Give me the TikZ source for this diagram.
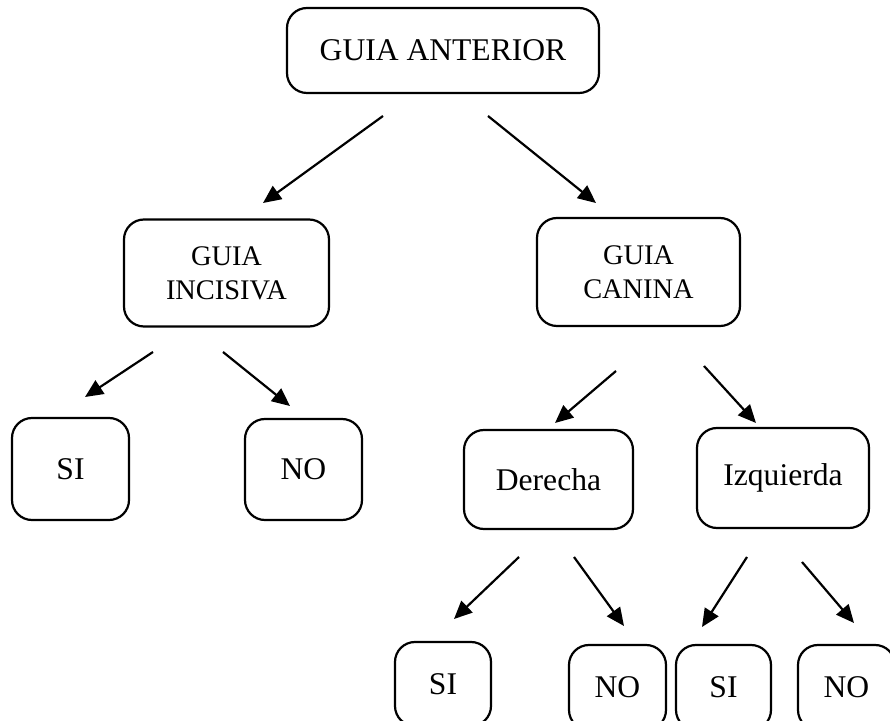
\documentclass[tikz,border=0pt]{standalone}
\usepackage{fontspec}
\setmainfont{Liberation Serif}
\usetikzlibrary{arrows.meta}

\tikzset{
  caja/.style={draw, line width=1.1pt, rounded corners=10pt, align=center, inner sep=0pt,
    font=\fontsize{15.8}{19}\selectfont},
  flecha/.style={line width=1.1pt, -{Triangle[length=9pt,width=8pt]}}
}

\begin{document}
\begin{tikzpicture}[x=0.5pt,y=-0.5pt]
        \useasboundingbox (0,0) rectangle (890,721);
        \clip (0,0) rectangle (890,721);

        % primer nivel
        \node[caja,minimum width=156pt,minimum height=42.5pt] (ant) at (443,50.5) {GUIA ANTERIOR};

        % segundo nivel
        \node[caja,minimum width=102.5pt,minimum height=53.5pt,font=\fontsize{14.2}{17}\selectfont]
          (inc) at (226.5,273) {GUIA\\INCISIVA};
        \node[caja,minimum width=101.5pt,minimum height=54pt,font=\fontsize{14.2}{17}\selectfont]
          (can) at (638.5,272) {GUIA\\CANINA};

        % tercer nivel
        \node[caja,minimum width=58.5pt,minimum height=51pt] (si1) at (70.5,469) {SI};
        \node[caja,minimum width=58.5pt,minimum height=50.5pt] (no1) at (303.5,469.5) {NO};
        \node[caja,minimum width=84.5pt,minimum height=49.5pt] (der) at (548.5,479.5) {Derecha};
        \node[caja,minimum width=86pt,minimum height=50pt] (izq) at (783,478) {Izquierda};

        % cuarto nivel
        \node[caja,minimum width=48pt,minimum height=42pt] (si2) at (443,684) {SI};
        \node[caja,minimum width=48.5pt,minimum height=42.5pt] (no2) at (617.5,687.5) {NO};
        \node[caja,minimum width=47.5pt,minimum height=42.5pt] (si3) at (723.5,687.5) {SI};
        \node[caja,minimum width=48.5pt,minimum height=42.5pt] (no3) at (846.5,687.5) {NO};

        % puntos de las flechas
        \coordinate (antI) at (383,116);  \coordinate (incT) at (263,203);
        \coordinate (antD) at (488,116);  \coordinate (canT) at (596,203);
        \coordinate (incI) at (153,352);  \coordinate (si1T) at (85,397);
        \coordinate (incD) at (223,352);  \coordinate (no1T) at (290,406);
        \coordinate (canI) at (616,371);  \coordinate (derT) at (555,423);
        \coordinate (canD) at (704,366);  \coordinate (izqT) at (756,423);
        \coordinate (derI) at (519,557);  \coordinate (si2T) at (454,619);
        \coordinate (derD) at (574,557);  \coordinate (no2T) at (624,626);
        \coordinate (izqI) at (747,557);  \coordinate (si3T) at (702,627);
        \coordinate (izqD) at (802,562);  \coordinate (no3T) at (854,623);

        \draw[flecha] (antI) -- (incT);
        \draw[flecha] (antD) -- (canT);
        \draw[flecha] (incI) -- (si1T);
        \draw[flecha] (incD) -- (no1T);
        \draw[flecha] (canI) -- (derT);
        \draw[flecha] (canD) -- (izqT);
        \draw[flecha] (derI) -- (si2T);
        \draw[flecha] (derD) -- (no2T);
        \draw[flecha] (izqI) -- (si3T);
        \draw[flecha] (izqD) -- (no3T);
      \end{tikzpicture}
\end{document}
